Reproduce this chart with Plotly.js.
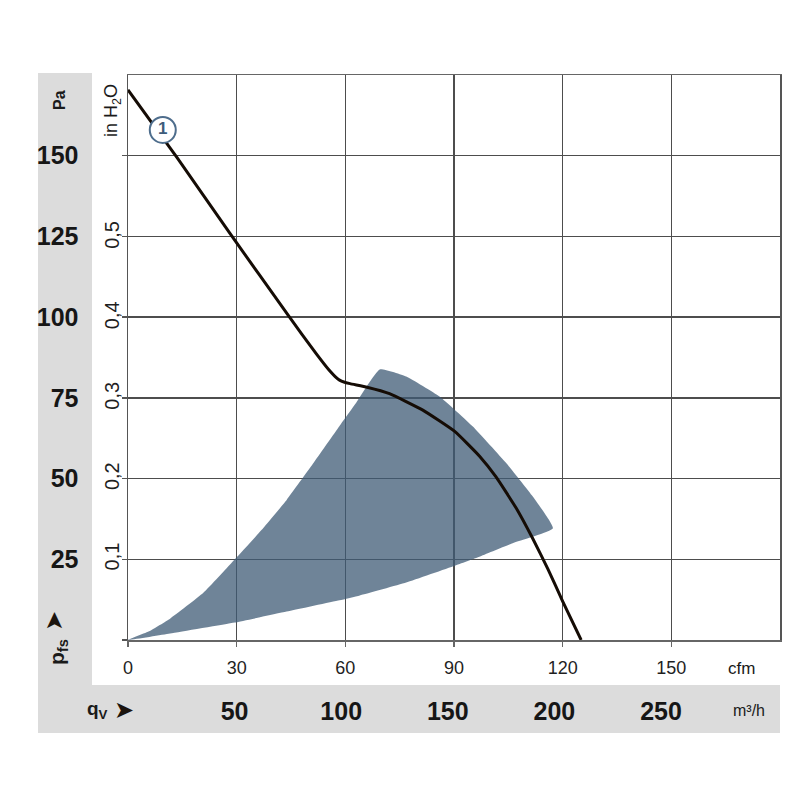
<!DOCTYPE html>
<html><head><meta charset="utf-8">
<script src="https://cdn.plot.ly/plotly-3.0.1.min.js"></script>
<style>html,body{margin:0;padding:0;background:#fff}#chart{width:800px;height:800px}</style>
</head><body><div id="chart"></div>
<script>
// ---- data ----
const cfmTicks = [0, 30, 60, 90, 120, 150];
const paTicks = [0, 25, 50, 75, 100, 125, 150];
const paLabels = ['', '25', '50', '75', '100', '125', '150'];
const inH2OTicks = [0.1, 0.2, 0.3, 0.4, 0.5];
const inH2OLabels = ['0,1', '0,2', '0,3', '0,4', '0,5'];
const m3hTicks = [50, 100, 150, 200, 250];
const m3hLabels = ['50', '100', '150', '200', '250'];

// characteristic curve 1 (cfm, Pa)
const curveQ = [0, 13.5, 28.1, 44.2, 52, 55.5, 57.2, 58.4, 59.6, 61.3, 66, 72.2, 81.4, 90.2, 97.0, 101.6, 107.2, 111.7, 116, 120, 125.1];
const curveP = [170.4, 149.5, 126.0, 100.6, 88.6, 83.6, 81.6, 80.5, 79.9, 79.4, 78.3, 76.3, 71.2, 64.6, 57.0, 50.5, 40.8, 31.5, 21.8, 12.0, 0];

// operating range (cfm, Pa): upper edge, outer arc, lower edge
const rangeQ = [0, 6, 11.6, 20.8, 29.5, 37.3, 43.8, 51, 58.4, 63, 69.5, 76.8, 86, 95.2, 104.4, 111.7, 117.3, 106.2, 97, 90.2, 76.8, 64, 58.4, 43.8, 29.5, 11.6, 0];
const rangeP = [0, 2.8, 6.6, 14.6, 25.0, 34.6, 43.4, 54.5, 66.3, 73.5, 83.8, 81.6, 75.4, 66.1, 54.8, 44.5, 34.6, 30.0, 25.8, 23.0, 17.8, 13.8, 12.3, 8.8, 5.4, 2.0, 0];

const markerQ = [9.6];
const markerP = [158];
const markerText = ['1'];

// ---- layout helpers ----
const W = 800, H = 800, ML = 0, MR = 20, MT = 75, MB = 0;
const PW = W - ML - MR, PH = H - MT - MB;
const px = x => (x - ML) / PW;          // pixel x -> paper
const py = y => (H - MB - y) / PH;      // pixel y -> paper
const SANS = 'Liberation Sans, Arial, Helvetica, sans-serif';
const GRID = '#4d4d4d';
const GRAY = '#dcdcdc';
const PA_PER_INH2O = 249.089;
const M3H_PER_CFM = 1.69901;
const xMax = 180, yMax = 175;

const traces = [
  {x: rangeQ, y: rangeP, mode: 'lines', fill: 'toself', fillcolor: 'rgba(63,91,118,0.75)',
   line: {width: 0, color: 'rgba(0,0,0,0)', shape: 'spline', smoothing: 0.4}, hoverinfo: 'skip', showlegend: false},
  {x: curveQ, y: curveP, mode: 'lines', line: {color: '#150c05', width: 3, shape: 'spline', smoothing: 0.4},
   showlegend: false},
  {x: markerQ, y: markerP, mode: 'markers+text', text: markerText, textposition: 'middle center',
   marker: {size: 26, color: '#ffffff', line: {color: '#4e6d8c', width: 2}},
   textfont: {family: SANS, size: 17, color: '#3e5c7b', weight: 'bold'},
   showlegend: false},
  // carriers so that the secondary unit axes are drawn
  {x: [0], y: [0], xaxis: 'x2', yaxis: 'y', mode: 'markers', marker: {opacity: 0}, hoverinfo: 'skip', showlegend: false},
  {x: [0], y: [0], xaxis: 'x', yaxis: 'y2', mode: 'markers', marker: {opacity: 0}, hoverinfo: 'skip', showlegend: false}
];

const ann = (x, y, text, size, extra) => Object.assign({xref: 'paper', yref: 'paper', x: px(x), y: py(y), text: text,
  showarrow: false, xanchor: 'center', yanchor: 'middle', font: {family: SANS, size: size, color: '#1a1a1a'}}, extra || {});

const layout = {
  width: W, height: H,
  margin: {l: ML, r: MR, t: MT, b: MB, pad: 0},
  paper_bgcolor: '#ffffff', plot_bgcolor: '#ffffff',
  showlegend: false,
  xaxis: {domain: [px(128), 1], range: [0, xMax], tickvals: cfmTicks, ticktext: cfmTicks.map(String),
    showgrid: true, gridcolor: GRID, gridwidth: 1.5, zeroline: false,
    showline: true, linecolor: '#666', linewidth: 1.5, mirror: true,
    ticks: 'outside', ticklen: 5, tickcolor: '#666', tickwidth: 1.5,
    tickfont: {family: SANS, size: 18, color: '#1f1f1f'}, ticklabelstandoff: 6, fixedrange: true},
  yaxis: {domain: [py(640), 1], range: [0, yMax], tickvals: paTicks, ticktext: paLabels,
    showgrid: true, gridcolor: GRID, gridwidth: 1.5, zeroline: false,
    showline: true, linecolor: '#555', linewidth: 1.5, mirror: true,
    ticks: 'outside', ticklen: 5, tickcolor: '#555', tickwidth: 1.5,
    tickfont: {family: SANS, size: 25, color: '#161616', weight: 'bold'}, ticklabelstandoff: 38, fixedrange: true},
  yaxis2: {overlaying: 'y', anchor: 'free', position: px(123), side: 'left',
    range: [0, yMax / PA_PER_INH2O], tickvals: inH2OTicks, ticktext: inH2OLabels, tickangle: -90,
    showgrid: false, zeroline: false, showline: false, ticks: '',
    tickfont: {family: SANS, size: 20, color: '#1f1f1f'}, fixedrange: true},
  xaxis2: {overlaying: 'x', anchor: 'free', position: py(694), side: 'bottom',
    range: [0, xMax * M3H_PER_CFM], tickvals: m3hTicks, ticktext: m3hLabels,
    showgrid: false, zeroline: false, showline: false, ticks: '',
    tickfont: {family: SANS, size: 25, color: '#161616', weight: 'bold'}, fixedrange: true},
  shapes: [
    {type: 'rect', xref: 'paper', yref: 'paper', x0: px(38), x1: px(92), y0: py(733), y1: py(73),
     fillcolor: GRAY, line: {width: 0}, layer: 'below'},
    {type: 'rect', xref: 'paper', yref: 'paper', x0: px(38), x1: px(780), y0: py(733), y1: py(685),
     fillcolor: GRAY, line: {width: 0}, layer: 'below'}
  ],
  annotations: [
    ann(60, 100, '<b>Pa</b>', 16, {textangle: -90}),
    ann(112, 110, 'in H<sub>2</sub>O', 18, {textangle: -90}),
    ann(58, 652, '<b>p<sub>fs</sub></b>', 21, {textangle: -90}),
    ann(54, 621, '➤', 24, {textangle: -90, font: {family: 'DejaVu Sans, sans-serif', size: 24, color: '#1b140e'}}),
    ann(97, 710, '<b>q<sub>V</sub></b>', 19),
    ann(124, 710, '➤', 24, {font: {family: 'DejaVu Sans, sans-serif', size: 24, color: '#1b140e'}}),
    ann(741, 668, 'cfm', 17),
    ann(749, 710, 'm³/h', 16)
  ]
};

Plotly.newPlot('chart', traces, layout, {staticPlot: true, displayModeBar: false});
</script>
</body></html>
